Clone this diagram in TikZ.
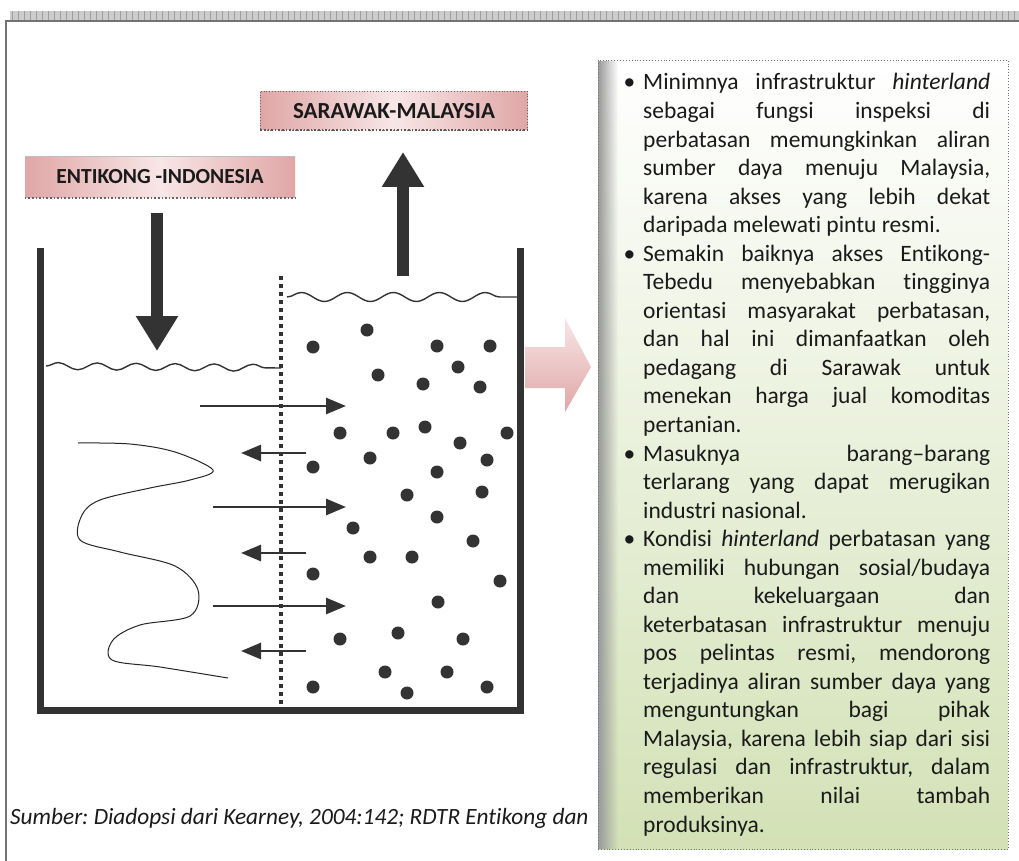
\documentclass[tikz,border=0pt]{standalone}
\usepackage{fontspec}
\setmainfont{Carlito}[Ligatures=NoCommon]
\usetikzlibrary{arrows.meta,decorations.pathmorphing,fadings}
\frenchspacing

\definecolor{wall}{HTML}{333333}
\definecolor{pinkA}{HTML}{E0A6A6}
\definecolor{pinkB}{HTML}{F8E6E6}
\definecolor{greenB}{HTML}{D3E1B6}
\definecolor{txtcol}{HTML}{1A1A1A}

\tikzfading[name=fadeR, left color=transparent!0, right color=transparent!100]

\newcommand\JL[1]{\hbox to 347pt{#1}}
\newcommand\LL[1]{\hbox to 347pt{#1\hfil}}
\newcommand\BL{\llap{\textbullet\hspace{8pt}}}

\tikzset{
  lbl/.style={inner sep=0pt, text=txtcol,
    left color=pinkA, right color=pinkA, middle color=pinkB},
  fatarrow/.style={line width=12pt, draw=wall, -{Triangle[length=35pt,width=40pt]}},
  harr/.style={line width=2.8pt, draw=wall, -{Triangle[length=20pt,width=16pt]}},
  wave/.style={line width=1.4pt, draw=wall, decorate},
  dot/.style={fill=wall},
}

\begin{document}
\begin{tikzpicture}[x=1pt,y=-1pt]
\useasboundingbox (0,0) rectangle (1019,861);
\fill[white] (0,0) rectangle (1019,861);

% top band and frame
\fill[black!20] (10,11) rectangle (1019,20);
\foreach \x in {12,18,...,1018} \draw[black!38, line width=0.6pt] (\x,11) -- (\x,20);
\draw[black!55, line width=1.2pt] (6,861) -- (6,21) -- (1019,21);

% labels
\node[lbl, minimum width=270pt, minimum height=41pt, font=\bfseries\fontsize{21.5}{21.5}\selectfont] (ent) at (160,177) {ENTIKONG -INDONESIA};
\draw[black!60, dotted, line width=1.6pt] (ent.south west) -- (ent.south east);
\draw[black!25, line width=0.5pt] (ent.north west) -- (ent.north east);
\node[lbl, minimum width=267pt, minimum height=38pt, font=\bfseries\fontsize{23}{23}\selectfont] (sar) at (394,111) {SARAWAK-MALAYSIA};
\draw[black!60, dotted, line width=0.8pt] (sar.north west) rectangle (sar.south east);
\draw[black!65, dotted, line width=1.6pt] (sar.south west) -- (sar.south east);

% big vertical arrows
\coordinate (dA) at (157,213);
\coordinate (dB) at (157,351);
\draw[fatarrow] (dA) -- (dB);
\coordinate (uA) at (403,276);
\coordinate (uB) at (403,152);
\draw[fatarrow] (uA) -- (uB);

% container
\draw[line width=7pt, wall] (40,248) -- (40,710) -- (520,710) -- (520,248);
\draw[line width=3.5pt, wall, dash pattern=on 3.5pt off 4.5pt] (281,276) -- (281,705);

% water surfaces
\draw[wave, decoration={snake, segment length=39pt, amplitude=3.5pt}] (46,366) -- (281,368);
\draw[wave, decoration={snake, segment length=46pt, amplitude=4.5pt}] (287,297) -- (517,297);

% horizontal arrows
\coordinate (r1a) at (200,406); \coordinate (r1b) at (346,406);
\coordinate (l1a) at (306,453); \coordinate (l1b) at (241,453);
\coordinate (r2a) at (213,507); \coordinate (r2b) at (346,507);
\coordinate (l2a) at (306,553); \coordinate (l2b) at (241,553);
\coordinate (r3a) at (213,606); \coordinate (r3b) at (346,606);
\coordinate (l3a) at (306,651); \coordinate (l3b) at (241,651);
\draw[harr] (r1a) -- (r1b);
\draw[harr] (l1a) -- (l1b);
\draw[harr] (r2a) -- (r2b);
\draw[harr] (l2a) -- (l2b);
\draw[harr] (r3a) -- (r3b);
\draw[harr] (l3a) -- (l3b);

% wavy profile curve
\draw[line width=1pt, black!85] plot[smooth, tension=0.55] coordinates {
 (78,443) (130,444) (175,452) (213,470) (190,480) (150,488) (100,500) (82,515) (80,540)
 (120,552) (175,566) (198,590) (190,616) (140,625) (113,640) (112,660) (160,667) (228,678)};

% particles
\foreach \p in {(367,330),(313,347),(437,346),(490,346),(458,367),(378,375),(423,384),(480,387),
 (425,427),(340,433),(393,433),(507,433),(460,443),(370,458),(487,460),(313,467),(437,472),
 (407,495),(482,492),(437,517),(353,528),(473,541),(370,557),(412,557),(313,574),(500,581),
 (438,602),(340,639),(398,633),(463,639),(385,672),(447,672),(313,687),(407,693),(487,687)}
 \fill[dot] \p circle (6.5pt);

% pink block arrow
\shade[top color=pinkB, bottom color=pinkA] (525,347) -- (565,347) -- (565,318) -- (591,367)
  -- (565,412) -- (565,388) -- (525,388) -- cycle;

% text box
\shade[top color=white, bottom color=greenB] (598,60) rectangle (1008,849);
\fill[black!40, path fading=fadeR] (598,60) rectangle (618,849);
\draw[black!55, dotted, line width=0.9pt] (598,60) rectangle (1008,849);

\node[anchor=base west, inner sep=0pt, text=txtcol] (txt) at (643,90) {\parbox[t]{347pt}{%
\fontsize{23.5}{28.54}\selectfont
\JL{\BL Minimnya infrastruktur \textit{hinterland}}
\JL{sebagai fungsi inspeksi di}
\JL{perbatasan memungkinkan aliran}
\JL{sumber daya menuju Malaysia,}
\JL{karena akses yang lebih dekat}
\LL{daripada melewati pintu resmi.}
\JL{\BL Semakin baiknya akses Entikong-}
\JL{Tebedu menyebabkan tingginya}
\JL{orientasi masyarakat perbatasan,}
\JL{dan hal ini dimanfaatkan oleh}
\JL{pedagang di Sarawak untuk}
\JL{menekan harga jual komoditas}
\LL{pertanian.}
\JL{\BL Masuknya barang–barang}
\JL{terlarang yang dapat merugikan}
\LL{industri nasional.}
\JL{\BL Kondisi \textit{hinterland} perbatasan yang}
\JL{memiliki hubungan sosial/budaya}
\JL{dan kekeluargaan dan}
\JL{keterbatasan infrastruktur menuju}
\JL{pos pelintas resmi, mendorong}
\JL{terjadinya aliran sumber daya yang}
\JL{menguntungkan bagi pihak}
\JL{Malaysia, karena lebih siap dari sisi}
\JL{regulasi dan infrastruktur, dalam}
\JL{memberikan nilai tambah}
\LL{produksinya.}}};

% source caption
\node[anchor=west, inner sep=0pt, text=txtcol, font=\itshape\fontsize{23.3}{23.3}\selectfont] (src) at (10,818)
  {Sumber: Diadopsi dari Kearney, 2004:142; RDTR Entikong dan};
\end{tikzpicture}
\end{document}
